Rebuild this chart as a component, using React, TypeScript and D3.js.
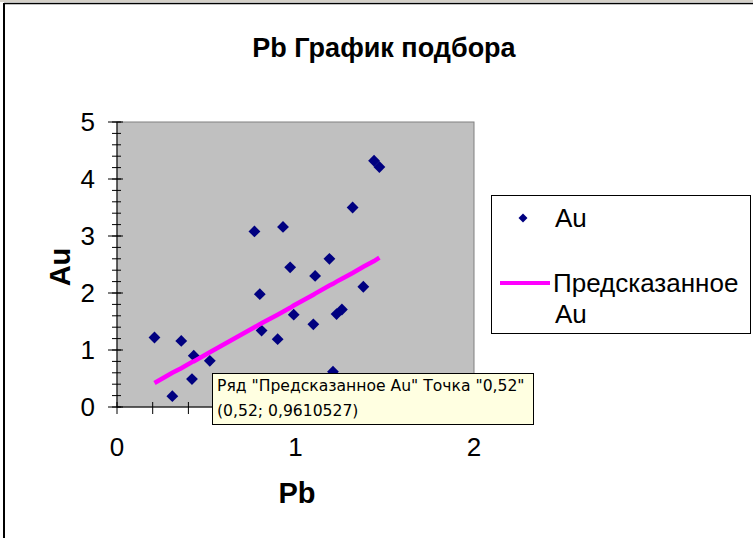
import React, { useEffect } from 'react';
import * as d3 from 'd3';

const pb = [0.21, 0.31, 0.36, 0.43, 0.42, 0.52, 0.77, 0.80, 0.81, 0.90, 0.93, 0.97, 0.99, 1.11, 1.10, 1.19, 1.21, 1.23, 1.26, 1.32, 1.38, 1.44, 1.47];
const au = [1.22, 0.19, 1.16, 0.90, 0.49, 0.81, 3.08, 1.98, 1.34, 1.19, 3.16, 2.45, 1.62, 2.30, 1.45, 2.60, 0.62, 1.63, 1.71, 3.50, 2.11, 4.32, 4.21];
// "Предсказанное Au" (fitted) values at the same Pb points
const predicted = [0.42, 0.60, 0.68, 0.80, 0.79, 0.96, 1.40, 1.45, 1.47, 1.62, 1.67, 1.74, 1.78, 1.99, 1.97, 2.13, 2.16, 2.20, 2.25, 2.35, 2.46, 2.56, 2.62];

const xTicks = [0, 1, 2];
const yTicks = [0, 1, 2, 3, 4, 5];
const xMinor = d3.range(0, 2.0001, 0.2);
const yMinor = d3.range(0, 5.0001, 0.2);

const title = 'Pb График подбора';
const xLabel = 'Pb';
const yLabel = 'Au';
const seriesNames = ['Au', 'Предсказанное', 'Au'];
const tipLines = ['Ряд "Предсказанное Au" Точка "0,52"', '(0,52; 0,9610527)'];

const W = 753;
const H = 538;
const plot = { left: 117, right: 474, top: 122, bottom: 407 };
const FONT = '"Liberation Sans", Arial, sans-serif';

export default function App() {
  useEffect(() => {
    document.body.style.margin = '0';
  }, []);

  const x = d3.scaleLinear().domain([0, 2]).range([plot.left, plot.right]);
  const y = d3.scaleLinear().domain([0, 5]).range([plot.bottom, plot.top]);

  const diamond = d3.symbol(d3.symbolSquare, 70)();
  const legendDiamond = d3.symbol(d3.symbolSquare, 40)();

  const fit = pb.map((p, i) => [p, predicted[i]] as [number, number]).sort((a, b) => a[0] - b[0]);
  const line = d3.line<[number, number]>().x(d => x(d[0])).y(d => y(d[1]));

  return (
    <svg width={W} height={H} style={{ display: 'block', background: '#fff' }} fontFamily={FONT}>
      {/* spreadsheet edge + chart frame */}
      <rect x={0} y={0} width={W} height={2} fill="#d4d0c8" />
      <line x1={4} y1={3.5} x2={W} y2={3.5} stroke="#000" strokeWidth={1.5} />
      <line x1={4} y1={3} x2={4} y2={H} stroke="#000" strokeWidth={2} />

      <text x={384} y={57} textAnchor="middle" fontSize={27} fontWeight="bold">{title}</text>

      {/* plot area */}
      <rect x={plot.left} y={plot.top} width={plot.right - plot.left} height={plot.bottom - plot.top}
        fill="#c0c0c0" stroke="#808080" strokeWidth={1} />

      {/* axes */}
      <line x1={plot.left} y1={plot.top} x2={plot.left} y2={plot.bottom} stroke="#000" />
      <line x1={plot.left} y1={plot.bottom} x2={plot.right} y2={plot.bottom} stroke="#000" />
      {yMinor.map((v, i) => (
        <line key={'ym' + i} x1={plot.left - 5} x2={plot.left + 4} y1={y(v)} y2={y(v)} stroke="#000" />
      ))}
      {yTicks.map(v => (
        <g key={'yt' + v}>
          <line x1={plot.left - 9} x2={plot.left + 6} y1={y(v)} y2={y(v)} stroke="#000" />
          <text x={95} y={y(v)} dy="0.36em" textAnchor="end" fontSize={26}>{v}</text>
        </g>
      ))}
      {xMinor.map((v, i) => (
        <line key={'xm' + i} x1={x(v)} x2={x(v)} y1={plot.bottom - 5} y2={plot.bottom + 7} stroke="#000" />
      ))}
      {xTicks.map(v => (
        <text key={'xt' + v} x={x(v)} y={456} textAnchor="middle" fontSize={26}>{v}</text>
      ))}

      <text x={297} y={503} textAnchor="middle" fontSize={29} fontWeight="bold">{xLabel}</text>
      <text transform="translate(70,267) rotate(-90)" textAnchor="middle" fontSize={29} fontWeight="bold">{yLabel}</text>

      {/* data */}
      {pb.map((p, i) => (
        <path key={'pt' + i} d={diamond!} transform={`translate(${x(p)},${y(au[i])}) rotate(45)`} fill="#000080" />
      ))}
      <path d={line(fit)!} fill="none" stroke="#ff00ff" strokeWidth={4.5} />

      {/* legend */}
      <rect x={491.5} y={195.5} width={259} height={138} fill="#fff" stroke="#000" />
      <path d={legendDiamond!} transform="translate(523,218) rotate(45)" fill="#000080" />
      <text x={555} y={227} fontSize={26}>{seriesNames[0]}</text>
      <line x1={500} x2={550} y1={283} y2={283} stroke="#ff00ff" strokeWidth={4} />
      <text x={553} y={292} fontSize={26}>{seriesNames[1]}</text>
      <text x={555} y={323} fontSize={26}>{seriesNames[2]}</text>

      {/* hover tooltip */}
      <rect x={212.5} y={373.5} width={321} height={51} fill="#ffffe1" stroke="#000" />
      <text x={217} y={391} fontSize={15.6} fontFamily='"DejaVu Sans", sans-serif'>{tipLines[0]}</text>
      <text x={217} y={416} fontSize={15.6} fontFamily='"DejaVu Sans", sans-serif'>{tipLines[1]}</text>
    </svg>
  );
}
